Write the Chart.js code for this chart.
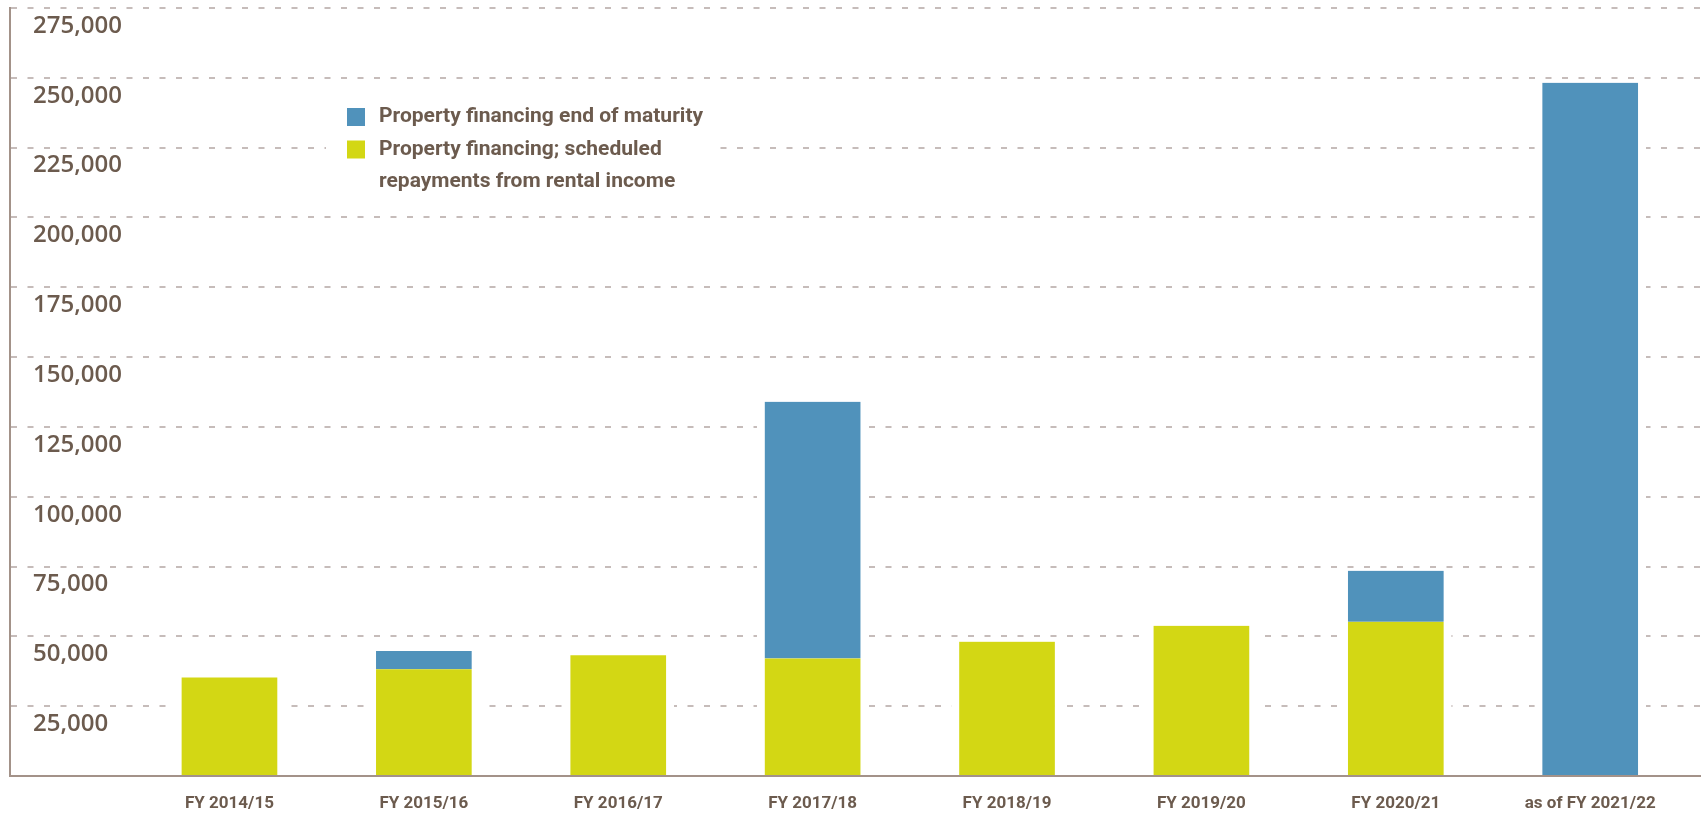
<!DOCTYPE html>
<html>
<head>
<meta charset="utf-8">
<script src="https://cdn.jsdelivr.net/npm/chart.js@4/dist/chart.umd.min.js"></script>
<style>
  html, body { margin: 0; padding: 0; background: #fff; }
  #wrap { width: 1701px; height: 815px; }
</style>
</head>
<body>
<div id="wrap"><canvas id="chart"></canvas></div>
<script>
// values, EUR thousand
const categories = ['FY 2014/15', 'FY 2015/16', 'FY 2016/17', 'FY 2017/18',
                    'FY 2018/19', 'FY 2019/20', 'FY 2020/21', 'as of FY 2021/22'];
const scheduled = [35300, 38200, 43200, 42100, 48100, 53800, 55200, null];
const maturity  = [null, 6550, null, 91900, null, null, 18250, 248200];

const legendMaturity  = ['Property financing end of maturity'];
const legendScheduled = ['Property financing; scheduled', 'repayments from rental income'];

const blue = '#5092bb';
const green = '#d3d714';
const textColor = '#6c5b4e';
const axisColor = '#a39289';

// legend drawn over the grid, with a white box behind it
const legendBox = {
  id: 'legendBox',
  afterDatasetsDraw(chart) {
    const ctx = chart.ctx;
    ctx.save();
    ctx.fillStyle = '#ffffff';
    ctx.fillRect(326, 94, 394, 104);
    const items = [
      { color: blue, lines: legendMaturity },
      { color: green, lines: legendScheduled }
    ];
    ctx.font = 'bold 21px Roboto, sans-serif';
    ctx.textBaseline = 'middle';
    ctx.textAlign = 'left';
    let y = 117;
    items.forEach(it => {
      ctx.fillStyle = it.color;
      ctx.fillRect(347, y - 9, 18, 18);
      ctx.fillStyle = textColor;
      it.lines.forEach(line => {
        ctx.fillText(line, 379, y);
        y += 32.5;
      });
    });
    ctx.restore();
  }
};

const toPoints = arr => arr.map((v, i) => ({ x: i, y: v }));

new Chart(document.getElementById('chart'), {
  type: 'bar',
  data: {
    datasets: [
      {
        label: legendScheduled.join(' '),
        data: toPoints(scheduled),
        backgroundColor: green,
        borderColor: '#ffffff',
        borderWidth: { left: 8, right: 8, top: 0, bottom: 0 },
        borderSkipped: false,
        barThickness: 111
      },
      {
        label: legendMaturity[0],
        data: toPoints(maturity),
        backgroundColor: blue,
        borderColor: '#ffffff',
        borderWidth: { left: 8, right: 8, top: 0, bottom: 0 },
        borderSkipped: false,
        barThickness: 111
      }
    ]
  },
  options: {
    responsive: true,
    maintainAspectRatio: false,
    animation: false,
    layout: { padding: { top: 8, left: 10, right: 0, bottom: 0 } },
    plugins: {
      legend: { display: false },
      tooltip: { enabled: false }
    },
    scales: {
      x: {
        type: 'linear',
        stacked: true,
        offset: false,
        min: -1.129,
        max: 7.57,
        grid: { display: false, drawTicks: false },
        border: { display: true, color: axisColor, width: 2 },
        afterFit: s => { s.height = 39; s.paddingLeft = 0; s.paddingRight = 0; },
        ticks: {
          stepSize: 1,
          autoSkip: false,
          maxRotation: 0,
          padding: 18,
          color: textColor,
          font: { family: 'Roboto, sans-serif', size: 17, weight: 'bold' },
          callback: v => Number.isInteger(v) && categories[v] ? categories[v] : ''
        }
      },
      y: {
        stacked: true,
        min: 0,
        max: 275000,
        grid: {
          drawTicks: false,
          lineWidth: 2,
          color: ctx => ctx.tick && ctx.tick.value === 0 ? 'rgba(0,0,0,0)' : '#c6bcba'
        },
        border: { display: true, color: axisColor, width: 2, dash: [6, 10.5] },
        afterFit: s => { s.width = 0; s.paddingTop = 0; s.paddingBottom = 0; },
        ticks: {
          stepSize: 25000,
          mirror: true,
          padding: 23,
          labelOffset: 18,
          color: textColor,
          font: { family: '"Open Sans", sans-serif', size: 24, weight: '600' },
          callback: v => v === 0 ? '' : v.toLocaleString('en-US')
        }
      }
    }
  },
  plugins: [legendBox]
});
</script>
</body>
</html>
